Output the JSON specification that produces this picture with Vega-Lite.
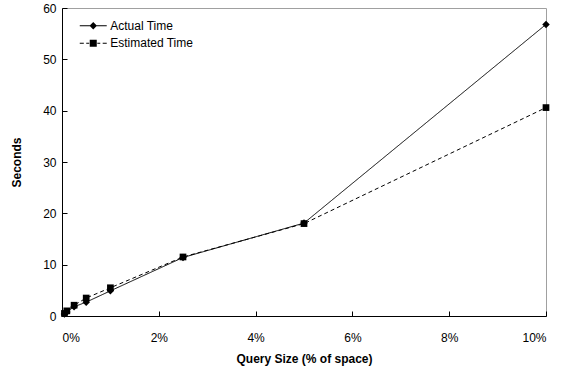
{
  "$schema": "https://vega.github.io/schema/vega-lite/v6.json",
  "width": 484,
  "height": 308,
  "autosize": "none",
  "padding": {"left": 62, "top": 8, "right": 15, "bottom": 59},
  "background": "white",
  "data": {
    "values": [
      {"size": 0.0005, "series": "Actual Time", "seconds": 0.4},
      {"size": 0.001, "series": "Actual Time", "seconds": 0.8},
      {"size": 0.0025, "series": "Actual Time", "seconds": 1.8},
      {"size": 0.005, "series": "Actual Time", "seconds": 2.7},
      {"size": 0.01, "series": "Actual Time", "seconds": 4.9},
      {"size": 0.025, "series": "Actual Time", "seconds": 11.4},
      {"size": 0.05, "series": "Actual Time", "seconds": 18.1},
      {"size": 0.1, "series": "Actual Time", "seconds": 56.8},
      {"size": 0.0005, "series": "Estimated Time", "seconds": 0.5},
      {"size": 0.001, "series": "Estimated Time", "seconds": 1.0},
      {"size": 0.0025, "series": "Estimated Time", "seconds": 2.1},
      {"size": 0.005, "series": "Estimated Time", "seconds": 3.5},
      {"size": 0.01, "series": "Estimated Time", "seconds": 5.5},
      {"size": 0.025, "series": "Estimated Time", "seconds": 11.5},
      {"size": 0.05, "series": "Estimated Time", "seconds": 18.0},
      {"size": 0.1, "series": "Estimated Time", "seconds": 40.6}
    ]
  },
  "encoding": {
    "x": {
      "field": "size", "type": "quantitative",
      "scale": {"domain": [0, 0.1], "nice": false},
      "axis": {"title": "Query Size (% of space)", "format": ".0%", "values": [0, 0.02, 0.04, 0.06, 0.08, 0.1], "labelPadding": 21, "titlePadding": 10}
    },
    "y": {
      "field": "seconds", "type": "quantitative",
      "scale": {"domain": [0, 60], "nice": false},
      "axis": {"title": "Seconds", "values": [0, 10, 20, 30, 40, 50, 60], "labelPadding": 11, "titlePadding": 19}
    }
  },
  "layer": [
    {
      "mark": {"type": "line", "color": "black", "strokeWidth": 1},
      "encoding": {
        "detail": {"field": "series"},
        "strokeDash": {"field": "series", "type": "nominal", "scale": {"domain": ["Actual Time", "Estimated Time"], "range": [[1, 0], [4, 3]]}, "legend": null}
      }
    },
    {
      "mark": {"type": "point", "filled": true, "color": "black", "opacity": 1},
      "encoding": {
        "shape": {"field": "series", "type": "nominal", "scale": {"domain": ["Actual Time", "Estimated Time"], "range": ["diamond", "square"]}, "legend": null},
        "size": {"field": "series", "type": "nominal", "scale": {"domain": ["Actual Time", "Estimated Time"], "range": [56, 45]}, "legend": null}
      }
    },
    {
      "transform": [{"filter": "datum.seconds < 0"}],
      "mark": {"type": "point", "filled": true, "color": "black", "opacity": 1, "size": 182},
      "encoding": {
        "shape": {
          "field": "series", "type": "nominal",
          "scale": {
            "domain": ["Actual Time", "Estimated Time"],
            "range": [
              "M-2,-0.07L2,-0.07L2,0.07L-2,0.07ZM0,-0.55L0.55,0L0,0.55L-0.55,0Z",
              "M-2,-0.07L-1.4,-0.07L-1.4,0.07L-2,0.07ZM-1.04,-0.07L-0.6,-0.07L-0.6,0.07L-1.04,0.07ZM0.6,-0.07L1.04,-0.07L1.04,0.07L0.6,0.07ZM1.4,-0.07L2,-0.07L2,0.07L1.4,0.07ZM-0.52,-0.52L0.52,-0.52L0.52,0.52L-0.52,0.52Z"
            ]
          },
          "legend": {
            "title": null,
            "orient": "none",
            "legendX": 24.25,
            "legendY": 10.75,
            "padding": 0,
            "rowPadding": 4.5,
            "labelOffset": 10,
            "symbolSize": 182,
            "symbolFillColor": "black",
            "symbolStrokeColor": "black",
            "symbolStrokeWidth": 0,
            "symbolOpacity": 1,
            "labelFont": "Liberation Sans",
            "labelFontSize": 12,
            "labelColor": "black",
            "encode": {
              "symbols": {
                "update": {
                  "fill": {"value": "black"},
                  "strokeWidth": {"value": 0},
                  "opacity": {"value": 1}
                }
              }
            }
          }
        }
      }
    }
  ],
  "resolve": {"scale": {"shape": "independent"}},
  "config": {
    "view": {"stroke": "#a0a0a0", "strokeWidth": 1},
    "axis": {
      "grid": false,
      "domainColor": "black",
      "domainWidth": 1,
      "tickColor": "black",
      "tickSize": -5,
      "labelColor": "black",
      "labelFont": "Liberation Sans",
      "labelFontSize": 12,
      "titleColor": "black",
      "titleFont": "Liberation Sans",
      "titleFontSize": 12,
      "titleFontWeight": "bold"
    }
  }
}
